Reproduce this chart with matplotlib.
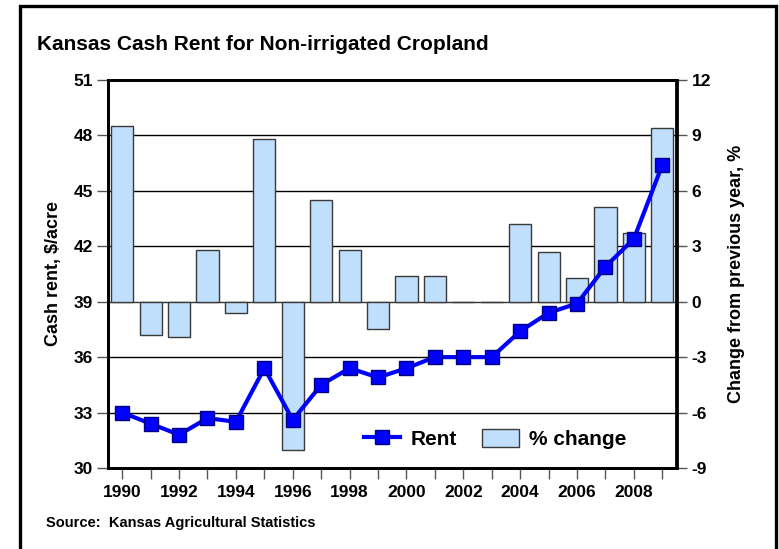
import matplotlib
matplotlib.use("Agg")
import matplotlib.pyplot as plt
from matplotlib.patches import Rectangle
from matplotlib.lines import Line2D
from matplotlib.patches import Patch

plt.rcParams['font.family'] = ['Liberation Sans', 'DejaVu Sans']
plt.rcParams['font.weight'] = 'bold'

years = list(range(1990, 2010))
rent = [33.0, 32.4, 31.8, 32.7, 32.5, 35.4, 32.6, 34.5, 35.4, 34.9,
        35.4, 36.0, 36.0, 36.0, 37.4, 38.4, 38.9, 40.9, 42.4, 46.4]
pct_change = [9.5, -1.8, -1.9, 2.8, -0.6, 8.8, -8.0, 5.5, 2.8, -1.5,
              1.4, 1.4, 0.0, 0.0, 4.2, 2.7, 1.3, 5.1, 3.7, 9.4]
left_ticks = [30, 33, 36, 39, 42, 45, 48, 51]
right_ticks = [-9, -6, -3, 0, 3, 6, 9, 12]
year_labels = [str(y) if y % 2 == 0 else '' for y in years]

W, H = 779, 549
fig = plt.figure(figsize=(W / 100, H / 100), dpi=100)

# outer frame
fig.patches.append(Rectangle((20 / W, -0.05), (776 - 20) / W, 1.05 - 6 / H,
                             transform=fig.transFigure, fill=False,
                             edgecolor='black', linewidth=2.4, zorder=0))

ax_l = 108 / W
ax_r = 676.5 / W
ax_b = (H - 468) / H
ax_t = (H - 80) / H
ax1 = fig.add_axes([ax_l, ax_b, ax_r - ax_l, ax_t - ax_b])  # rent (left axis)
ax2 = ax1.twinx()  # % change (right axis)
ax1.set_zorder(ax2.get_zorder() + 1)
ax1.patch.set_visible(False)

TICK_FS = 12.5
LABEL_FS = 13
BAR_COLOR = '#C0DFFC'

# bars on right-hand scale
ax2.set_ylim(-9, 12)
ax2.set_xlim(1989.5, 2009.5)
for y in [-6, -3, 3, 6, 9]:
    ax2.axhline(y, color='black', linewidth=1.0, zorder=1)
ax2.axhline(0, color='#333333', linewidth=1.0, zorder=1)
ax2.bar(years, pct_change, width=0.78, color=BAR_COLOR, edgecolor='#3a3a3a',
        linewidth=1.0, zorder=2)
ax2.set_yticks(right_ticks)
ax2.set_yticklabels([str(t) for t in right_ticks], fontsize=TICK_FS, fontweight='bold')
ax2.set_ylabel('Change from previous year, %', fontsize=LABEL_FS, fontweight='bold',
               rotation=90, labelpad=12)
ax2.tick_params(axis='y', length=8, width=1, color='#555555', pad=3)

# line on left-hand scale
ax1.set_xlim(1989.5, 2009.5)
ax1.set_ylim(30, 51)
ax1.set_yticks(left_ticks)
ax1.set_yticklabels([str(t) for t in left_ticks], fontsize=TICK_FS, fontweight='bold')
ax1.set_xticks(years)
ax1.set_xticklabels(year_labels, fontsize=TICK_FS, fontweight='bold')
ax1.tick_params(axis='x', length=8, width=1, color='#555555', pad=4)
ax1.tick_params(axis='y', length=8, width=1, color='#555555', pad=3)
ax1.set_ylabel('Cash rent, $/acre', fontsize=LABEL_FS, fontweight='bold', labelpad=8)
ax1.plot(years, rent, color='#0000FF', linewidth=3, marker='s', markersize=10,
         markerfacecolor='#0000FF', markeredgecolor='#000080', markeredgewidth=1,
         zorder=5)
for a in (ax1, ax2):
    for s in a.spines.values():
        s.set_linewidth(2.0)

handles = [Line2D([0], [0], color='#0000FF', linewidth=3, marker='s', markersize=10,
                  markerfacecolor='#0000FF', markeredgecolor='#000080'),
           Patch(facecolor=BAR_COLOR, edgecolor='#3a3a3a')]
ax1.legend(handles, ['Rent', '% change'], loc='lower right',
           bbox_to_anchor=(0.945, 0.0), frameon=False, ncol=2,
           prop={'size': 15, 'weight': 'bold'}, handlelength=1.75,
           handleheight=0.9, columnspacing=1.2, handletextpad=0.5)

fig.text(37 / W, 1 - 45 / H, 'Kansas Cash Rent for Non-irrigated Cropland',
         fontsize=15, fontweight='bold', va='center', ha='left')
fig.text(46 / W, 1 - 523 / H, 'Source:  Kansas Agricultural Statistics',
         fontsize=10.5, fontweight='bold', va='center', ha='left')

fig.savefig('out.png', dpi=100)
